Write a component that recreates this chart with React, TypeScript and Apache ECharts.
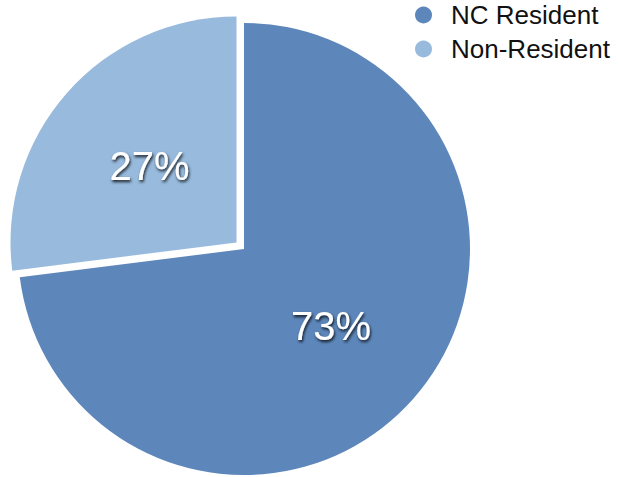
import React, { useEffect, useRef } from "react";
import * as echarts from "echarts";

const categories = ["NC Resident", "Non-Resident"];
const values = [73, 27];
const colors = ["#5d87bb", "#97badd"];
const explodedIndex = 1;

export default function App() {
  const ref = useRef<HTMLDivElement>(null);
  useEffect(() => {
    if (!ref.current) return;
    const chart = echarts.init(ref.current, undefined, { renderer: "svg" });
    chart.setOption({
      animation: false,
      legend: {
        orient: "vertical",
        left: 415,
        top: 2,
        padding: 0,
        itemWidth: 17,
        itemHeight: 17,
        itemGap: 8,
        icon: "circle",
        selectedMode: false,
        textStyle: {
          fontFamily: "Liberation Sans, Arial, sans-serif",
          fontSize: 26,
          color: "#111",
          padding: [0, 0, 0, 14],
        },
        data: categories,
      },
      series: [
        {
          type: "pie",
          center: [244, 249],
          radius: 226,
          startAngle: 90,
          clockwise: true,
          selectedMode: "single",
          selectedOffset: 10,
          emphasis: { disabled: true },
          label: {
            show: true,
            position: "inside",
            formatter: (p: any) => `${p.value}%`,
            color: "#ffffff",
            fontFamily: "Liberation Sans, Arial, sans-serif",
            fontSize: 40,
            textShadowColor: "rgba(0,0,0,0.85)",
            textShadowBlur: 3,
            textShadowOffsetX: 1,
            textShadowOffsetY: 2,
          },
          labelLine: { show: false },
          itemStyle: { borderWidth: 0 },
          data: categories.map((name, i) => ({
            name,
            value: values[i],
            selected: i === explodedIndex,
            itemStyle: { color: colors[i] },
          })),
        },
      ],
    });
    return () => chart.dispose();
  }, []);
  return (
    <div
      ref={ref}
      style={{ position: "fixed", left: 0, top: 0, width: 620, height: 477, background: "#fff" }}
    />
  );
}
